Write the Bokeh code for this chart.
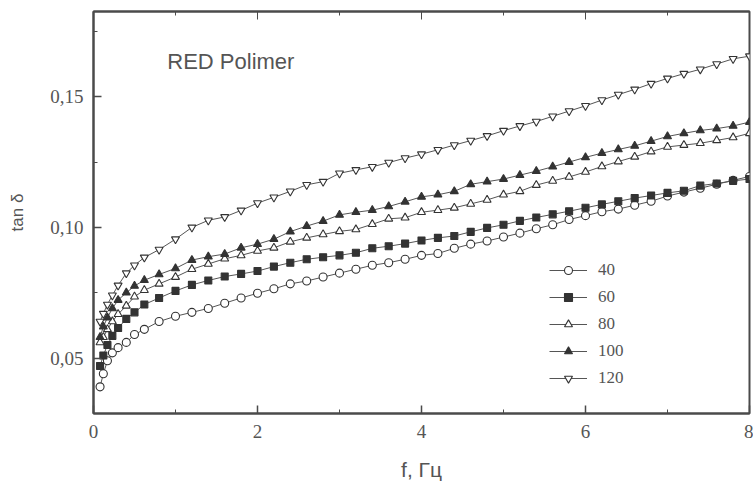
from bokeh.plotting import figure
from bokeh.models import (Range1d, FixedTicker, LinearAxis, Legend, LegendItem,
                          ColumnDataSource, Label, CustomLabelingPolicy)
from bokeh.embed import file_html
from bokeh.resources import INLINE

# ---- data ----
freq = [0.08, 0.12, 0.17, 0.23, 0.3, 0.4, 0.5, 0.62, 0.8, 1.0, 1.2, 1.4, 1.6, 1.8,
        2.0, 2.2, 2.4, 2.6, 2.8, 3.0, 3.2, 3.4, 3.6, 3.8, 4.0, 4.2, 4.4, 4.6, 4.8,
        5.0, 5.2, 5.4, 5.6, 5.8, 6.0, 6.2, 6.4, 6.6, 6.8, 7.0, 7.2, 7.4, 7.6, 7.8, 8.0]

tan_40 = [0.039, 0.044, 0.049, 0.052, 0.054, 0.056, 0.059, 0.061, 0.064, 0.066, 0.0675,
          0.069, 0.071, 0.073, 0.0748, 0.0765, 0.0784, 0.0795, 0.081, 0.0825, 0.084,
          0.0855, 0.0865, 0.0878, 0.0893, 0.090, 0.092, 0.0936, 0.0948, 0.0963, 0.0978,
          0.0995, 0.101, 0.103, 0.1045, 0.106, 0.107, 0.1085, 0.110, 0.112, 0.1135,
          0.115, 0.1165, 0.118, 0.1195]
tan_60 = [0.047, 0.051, 0.055, 0.0585, 0.0615, 0.065, 0.0675, 0.0705, 0.073, 0.0757,
          0.078, 0.0797, 0.0812, 0.0822, 0.0833, 0.085, 0.0865, 0.0878, 0.0886, 0.0893,
          0.0903, 0.092, 0.0928, 0.0938, 0.095, 0.096, 0.0967, 0.0983, 0.0998, 0.101,
          0.1025, 0.1038, 0.105, 0.1062, 0.1075, 0.1088, 0.110, 0.1112, 0.1122, 0.1132,
          0.114, 0.116, 0.1168, 0.1178, 0.1185]
tan_80 = [0.056, 0.058, 0.061, 0.064, 0.0668, 0.070, 0.0735, 0.076, 0.0784, 0.081, 0.084,
          0.086, 0.088, 0.0893, 0.091, 0.0922, 0.0945, 0.096, 0.0973, 0.0985, 0.0992,
          0.1012, 0.1033, 0.1037, 0.1058, 0.1066, 0.1075, 0.109, 0.1105, 0.1125, 0.1138,
          0.1162, 0.1178, 0.1193, 0.1212, 0.1233, 0.1252, 0.127, 0.129, 0.1308, 0.1315,
          0.1322, 0.1333, 0.1344, 0.136]
tan_100 = [0.058, 0.062, 0.0655, 0.069, 0.0722, 0.075, 0.0776, 0.0798, 0.082, 0.0843,
           0.0875, 0.0888, 0.0898, 0.0922, 0.0936, 0.0955, 0.0984, 0.1005, 0.1024, 0.1048,
           0.1058, 0.1066, 0.108, 0.1098, 0.1117, 0.1125, 0.1138, 0.1165, 0.1175, 0.1185,
           0.120, 0.1215, 0.1232, 0.125, 0.1268, 0.1284, 0.1298, 0.1312, 0.133, 0.1348,
           0.136, 0.1371, 0.1378, 0.1388, 0.1403]
tan_120 = [0.064, 0.067, 0.0705, 0.074, 0.0778, 0.0825, 0.0855, 0.0885, 0.0915, 0.0955,
           0.100, 0.1027, 0.104, 0.1065, 0.1093, 0.1115, 0.1138, 0.1163, 0.1175, 0.1207,
           0.122, 0.1232, 0.1248, 0.1265, 0.128, 0.1297, 0.1315, 0.1332, 0.135, 0.137,
           0.1388, 0.1405, 0.1425, 0.1445, 0.1465, 0.1487, 0.1508, 0.1528, 0.155, 0.157,
           0.1588, 0.1605, 0.1625, 0.1645, 0.1655]

series_labels = ["40", "60", "80", "100", "120"]
x_ticks = [0, 2, 4, 6, 8]
x_minor = [1, 3, 5, 7]
y_ticks = [0.05, 0.10, 0.15]
y_tick_labels = ["0,05", "0,10", "0,15"]
y_minor = [0.075, 0.125, 0.175]
title_text = "RED Polimer"
x_title = "f, Гц"
y_title = "tan δ"

# ---- figure ----
INK = "#4a4a4a"
TXT = "#555555"
p = figure(width=753, height=483, output_backend="svg", toolbar_location=None,
           x_range=Range1d(0, 8), y_range=Range1d(0.0288, 0.1826),
           min_border_left=93, min_border_right=4, min_border_top=10, min_border_bottom=67)
p.xgrid.visible = False
p.ygrid.visible = False
p.outline_line_color = INK
p.outline_line_width = 2
p.outline_line_alpha = 1.0
p.background_fill_color = "white"
p.border_fill_color = "white"

for ax in (p.xaxis[0], p.yaxis[0]):
    ax.axis_line_color = INK
    ax.axis_line_width = 2
    ax.major_tick_in = 8
    ax.major_tick_out = 0
    ax.minor_tick_in = 4
    ax.minor_tick_out = 0
    ax.major_tick_line_color = INK
    ax.minor_tick_line_color = INK
    ax.major_tick_line_width = 1.5
    ax.major_label_text_font = "Liberation Serif"
    ax.major_label_text_font_size = "19px"
    ax.major_label_text_color = TXT
    ax.axis_label_text_font = "Liberation Sans"
    ax.axis_label_text_font_style = "normal"
    ax.axis_label_text_color = TXT

p.xaxis[0].ticker = FixedTicker(ticks=x_ticks, minor_ticks=x_minor)
p.xaxis[0].axis_label = x_title
p.xaxis[0].axis_label_text_font_size = "21px"
p.xaxis[0].major_label_standoff = 11
p.xaxis[0].axis_label_standoff = 17

p.yaxis[0].ticker = FixedTicker(ticks=y_ticks, minor_ticks=y_minor)
p.yaxis[0].major_label_overrides = {t: s for t, s in zip(y_ticks, y_tick_labels)}
p.yaxis[0].axis_label = y_title
p.yaxis[0].axis_label_text_font_size = "17px"
p.yaxis[0].major_label_standoff = 10
p.yaxis[0].axis_label_standoff = 20

top = LinearAxis(ticker=FixedTicker(ticks=x_ticks, minor_ticks=x_minor),
                 major_tick_in=8, major_tick_out=0, minor_tick_in=4, minor_tick_out=0,
                 major_label_standoff=0,
                 major_label_policy=CustomLabelingPolicy(
                     code="for (const i of indices) indices.unset(i); return indices"),
                 axis_line_color=INK, axis_line_width=2,
                 major_tick_line_color=INK, minor_tick_line_color=INK)
p.add_layout(top, "above")

styles = [
    dict(marker="circle", size=8, fill_color="white"),
    dict(marker="square", size=7, fill_color="#333333"),
    dict(marker="triangle", size=8, fill_color="white"),
    dict(marker="triangle", size=8, fill_color="#333333"),
    dict(marker="inverted_triangle", size=8, fill_color="white"),
]
all_series = [tan_40, tan_60, tan_80, tan_100, tan_120]

items = []
for lab, ys, st in zip(series_labels, all_series, styles):
    src = ColumnDataSource(dict(x=freq, y=ys))
    ln = p.line("x", "y", source=src, line_color="#555555", line_width=1)
    sc = p.scatter("x", "y", source=src, marker=st["marker"], size=st["size"],
                   fill_color=st["fill_color"], line_color="#333333", line_width=1.1)
    items.append(LegendItem(label=lab, renderers=[ln, sc]))

legend = Legend(items=items, location=(456, 25), background_fill_alpha=0,
                border_line_color=None, glyph_width=38, glyph_height=20,
                label_height=20, spacing=7, label_standoff=11,
                label_text_font="Liberation Serif", label_text_font_size="17px",
                label_text_color=TXT, padding=4, margin=0)
p.add_layout(legend, "center")

p.add_layout(Label(x=0.9, y=0.1633, text=title_text, text_font="Liberation Sans",
                   text_font_size="22px", text_color=TXT, text_baseline="middle"))

open("out.html", "w").write(file_html(p, INLINE))
